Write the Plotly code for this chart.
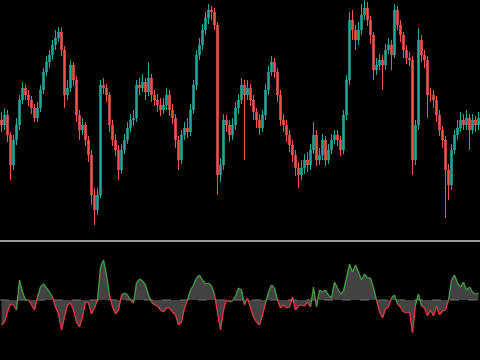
import plotly.graph_objects as go

# ---- price data (arbitrary price units) ----
opens = [120,115,125,105,75,100,115,140,152,145,140,132,122,132,150,168,178,185,195,202,
         208,190,145,152,175,160,125,110,115,100,85,45,30,45,155,152,145,115,100,90,
         70,90,100,112,120,122,155,152,158,148,162,145,140,135,130,135,145,130,122,100,
         80,105,112,108,130,155,185,195,210,222,230,228,215,65,75,120,115,105,115,132,
         140,155,145,152,140,128,120,112,125,150,168,178,168,145,120,115,105,95,85,72,
         65,72,80,75,90,105,80,85,100,80,90,100,105,100,90,125,160,220,210,200,
         210,225,232,220,205,170,175,180,175,190,195,185,230,215,205,190,182,180,80,115,
         200,185,180,145,145,140,125,110,100,70,55,90,105,112,120,115,122,110,120,115]
closes = [115,125,105,75,100,115,140,152,145,140,132,122,132,150,168,178,185,195,202,208,
          190,145,152,175,160,125,110,115,100,85,45,30,45,155,152,145,115,100,90,70,
          90,100,112,120,122,155,152,158,148,162,145,140,135,130,135,145,130,122,100,80,
          105,112,108,130,155,185,195,210,222,230,228,215,65,75,120,115,105,115,132,140,
          155,145,152,140,128,120,112,125,150,168,178,168,145,120,115,105,95,85,72,65,
          72,80,75,90,105,80,85,100,80,90,100,105,100,90,125,160,220,210,200,210,
          225,232,220,205,170,175,180,175,190,195,185,230,215,205,190,182,180,80,115,200,
          185,180,145,145,140,125,110,100,70,55,90,105,112,120,115,122,110,120,115,122]
highs = [128,132,130,108,105,122,145,158,156,150,144,136,138,155,172,184,190,200,210,213,
         212,194,160,180,178,164,130,122,118,104,90,52,52,160,162,156,148,120,106,95,
         96,106,118,126,130,160,162,166,162,178,166,150,146,142,142,152,150,136,126,104,
         110,118,122,136,160,190,202,216,228,236,234,232,218,82,126,125,120,122,138,146,
         162,160,160,156,145,132,126,130,156,174,184,182,172,150,126,120,110,100,90,78,
         80,86,88,96,118,110,92,106,104,96,106,110,110,104,130,165,228,230,215,218,
         236,240,238,224,208,182,186,185,196,202,200,236,234,220,208,195,188,184,120,212,
         205,190,184,152,150,144,130,114,104,76,96,110,120,128,126,130,126,126,124,128]
lows = [108,110,98,60,70,95,110,136,140,134,126,118,118,128,146,164,172,180,190,198,
        184,132,140,148,154,118,100,105,94,78,35,15,25,42,146,138,108,94,84,60,
        66,86,96,108,114,118,145,148,140,144,138,134,128,124,126,130,124,116,92,70,
        76,100,102,104,126,150,180,190,205,216,220,210,45,58,70,108,98,100,110,126,
        136,80,140,134,120,112,105,108,120,145,164,162,138,114,108,98,88,78,64,52,
        60,66,68,70,86,74,75,80,74,76,86,96,94,84,86,120,155,200,190,195,
        205,220,214,196,160,165,170,150,170,186,170,182,210,198,182,176,174,65,75,110,
        178,172,122,138,132,118,104,92,22,40,50,86,100,108,110,110,90,106,108,110]

# ---- oscillator values ----
osc = [-25,-22,-12,-4,-5,-10,20,8,0,0,-5,-10,3,13,16,12,8,3,-7,-14,
       -30,-17,-5,-3,-10,-22,-27,-17,-2,-3,-14,-8,0,33,40,25,5,-7,-14,-10,
       5,7,5,0,-3,17,21,19,15,5,-2,-5,-6,-10,-12,-8,-8,-12,-15,-25,
       -22,-8,0,10,15,22,25,20,16,17,14,6,-13,-30,-10,0,-2,-1,4,12,
       10,-5,2,-8,-17,-22,-25,-15,-3,8,15,12,0,-8,-5,-8,-7,3,-10,-6,
       -5,-6,-2,-7,13,-7,10,8,10,5,2,18,12,6,9,22,36,28,35,28,
       20,26,22,22,12,0,-12,-18,-9,-7,2,5,-4,-7,-12,-13,-12,-33,-5,6,
       -6,-8,-16,-10,-16,-6,-15,-11,-10,0,20,25,17,13,18,10,13,8,6,7]

n = len(closes)
xs = list(range(n))

fig = go.Figure()

fig.add_trace(go.Candlestick(
    x=xs, open=opens, high=highs, low=lows, close=closes,
    increasing=dict(line=dict(color="#26a69a", width=1), fillcolor="#26a69a"),
    decreasing=dict(line=dict(color="#ef5350", width=1), fillcolor="#ef5350"),
    whiskerwidth=0, showlegend=False, xaxis="x", yaxis="y",
))

# oscillator fill
fig.add_trace(go.Scatter(
    x=xs, y=osc, mode="lines", line=dict(width=0, color="rgba(0,0,0,0)"),
    fill="tozeroy", fillcolor="rgba(110,110,110,0.6)",
    showlegend=False, xaxis="x2", yaxis="y2", hoverinfo="skip",
))

# colour segments by sign
gx, gy, rx, ry = [], [], [], []
for i in range(n - 1):
    a, b = osc[i], osc[i + 1]
    if a + b >= 0:
        gx += [i, i + 1, None]; gy += [a, b, None]
    else:
        rx += [i, i + 1, None]; ry += [a, b, None]

fig.add_trace(go.Scatter(x=gx, y=gy, mode="lines", line=dict(color="#43a047", width=1.3),
                         showlegend=False, xaxis="x2", yaxis="y2", connectgaps=False))
fig.add_trace(go.Scatter(x=rx, y=ry, mode="lines", line=dict(color="#e53946", width=1.3),
                         showlegend=False, xaxis="x2", yaxis="y2", connectgaps=False))

fig.update_layout(
    width=480, height=360,
    margin=dict(l=0, r=0, t=0, b=0),
    paper_bgcolor="black", plot_bgcolor="black",
    xaxis=dict(domain=[0, 1], range=[-0.5, n - 0.5], visible=False,
               rangeslider=dict(visible=False), anchor="y"),
    yaxis=dict(domain=[120 / 360, 1], range=[0, 240], visible=False),
    xaxis2=dict(domain=[0, 1], range=[-0.5, n - 0.5], visible=False, anchor="y2"),
    yaxis2=dict(domain=[0, 118 / 360], range=[-60, 58], visible=False),
    shapes=[
        dict(type="line", xref="paper", yref="paper", x0=0, x1=1,
             y0=1 - 241 / 360, y1=1 - 241 / 360, line=dict(color="#cfcfcf", width=1.5)),
        dict(type="line", xref="x2", yref="y2", x0=-0.5, x1=n - 0.5, y0=0, y1=0,
             line=dict(color="#777777", width=1.2, dash="dash"), layer="below"),
    ],
)

fig.write_html("out.html")
